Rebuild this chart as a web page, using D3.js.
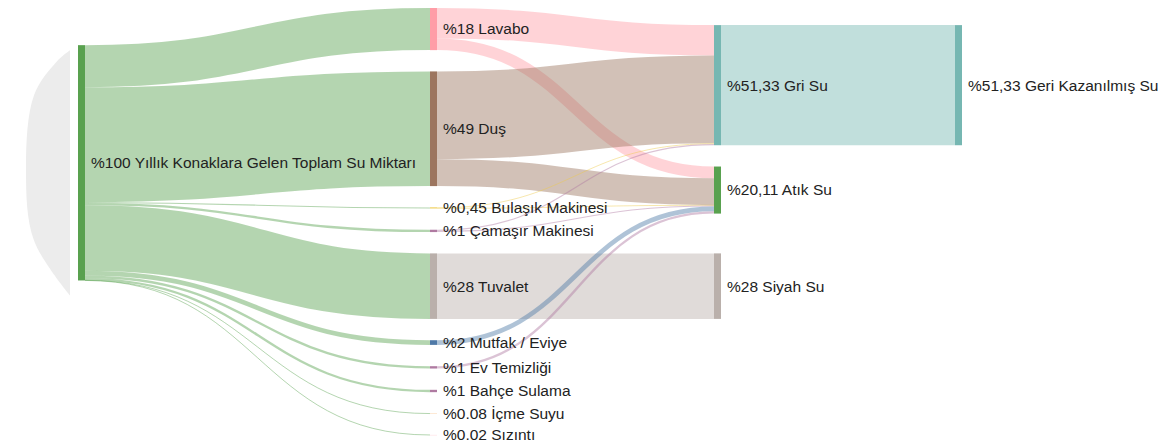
<!DOCTYPE html>
<html>
<head>
<meta charset="utf-8">
<script src="https://cdn.jsdelivr.net/npm/d3@7"></script>
<style>
  body { margin: 0; background: #fff; }
  text { font-family: "Liberation Sans", Arial, sans-serif; font-size: 15.5px; fill: #222; }
</style>
</head>
<body>
<svg id="chart" width="1169" height="448"></svg>
<script>
// ---- data ----
const nodeIds = ["Toplam", "Lavabo", "Dus", "Bulasik", "Camasir", "Tuvalet", "Mutfak",
  "EvTemizligi", "Bahce", "Icme", "Sizinti", "GriSu", "AtikSu", "SiyahSu", "GeriKazanilmis"];
const nodeLabels = ["%100 Yıllık Konaklara Gelen Toplam Su Miktarı", "%18 Lavabo", "%49 Duş",
  "%0,45 Bulaşık Makinesi", "%1 Çamaşır Makinesi", "%28 Tuvalet", "%2 Mutfak / Eviye",
  "%1 Ev Temizliği", "%1 Bahçe Sulama", "%0.08 İçme Suyu", "%0.02 Sızıntı",
  "%51,33 Gri Su", "%20,11 Atık Su", "%28 Siyah Su", "%51,33 Geri Kazanılmış Su"];

const linkSources = ["Toplam", "Toplam", "Toplam", "Toplam", "Toplam", "Toplam", "Toplam", "Toplam", "Toplam", "Toplam",
  "Lavabo", "Lavabo", "Dus", "Dus", "Bulasik", "Bulasik", "Camasir", "Camasir",
  "Tuvalet", "Mutfak", "EvTemizligi", "GriSu"];
const linkTargets = ["Lavabo", "Dus", "Bulasik", "Camasir", "Tuvalet", "Mutfak", "EvTemizligi", "Bahce", "Icme", "Sizinti",
  "GriSu", "AtikSu", "GriSu", "AtikSu", "GriSu", "AtikSu", "GriSu", "AtikSu",
  "SiyahSu", "AtikSu", "AtikSu", "GeriKazanilmis"];
const linkValues = [18, 49, 0.45, 1, 28, 2, 1, 1, 0.08, 0.02,
  13, 5, 37.5, 11.5, 0.33, 0.12, 0.5, 0.49,
  28, 2, 1, 51.33];

// ---- styles ----
const T = d3.schemeTableau10;
const nodeColors = [T[4], T[7], T[8], T[5], T[6], T[9], T[0], T[6], T[6], T[1], T[7], T[3], T[4], T[9], T[3]];

const nodeWidth = 7, nodePadding = 21.3;
const extentY = [8, 435];
const columnX = d3.scaleOrdinal().domain([0, 1, 2, 3]).range([78, 430, 714, 955]);
const iterations = 32;
const bandLift = 0.4;   // how far a node with several outflows pulls its targets upwards

// ---- sankey layout (left-aligned, relaxation as in d3-sankey) ----
const nodes = nodeIds.map((id, i) => ({ id, index: i, label: nodeLabels[i], color: nodeColors[i], sourceLinks: [], targetLinks: [] }));
const byId = new Map(nodes.map(n => [n.id, n]));
const links = linkValues.map((v, i) => ({ index: i, source: byId.get(linkSources[i]), target: byId.get(linkTargets[i]), value: v }));
links.forEach(l => { l.source.sourceLinks.push(l); l.target.targetLinks.push(l); });
nodes.forEach(n => {
  n.value = Math.max(d3.sum(n.sourceLinks, l => l.value), d3.sum(n.targetLinks, l => l.value));
});
(function assignDepths() {
  let current = new Set(nodes.filter(n => n.targetLinks.length === 0)), x = 0;
  while (current.size) {
    const next = new Set();
    for (const n of current) { n.depth = x; for (const l of n.sourceLinks) next.add(l.target); }
    x++; current = next;
  }
})();
const maxDepth = d3.max(nodes, n => n.depth);
const columns = d3.range(maxDepth + 1).map(d => nodes.filter(n => n.depth === d));
nodes.forEach(n => { n.x0 = columnX(n.depth); n.x1 = n.x0 + nodeWidth; });

const [y0, y1] = extentY;
const py = Math.min(nodePadding, (y1 - y0) / (d3.max(columns, c => c.length) - 1));
const ky = d3.min(columns, c => (y1 - y0 - (c.length - 1) * py) / d3.sum(c, n => n.value));
const yScale = d3.scaleLinear().domain([0, 1]).range([0, ky]);

function ascendingBreadth(a, b) { return a.y0 - b.y0; }
function reorderNodeLinks(n) {
  n.sourceLinks.sort((a, b) => ascendingBreadth(a.target, b.target) || a.index - b.index);
  n.targetLinks.sort((a, b) => ascendingBreadth(a.source, b.source) || a.index - b.index);
}
links.forEach(l => { l.width = yScale(l.value); });

columns.forEach(c => {
  let y = y0;
  for (const n of c) { n.y0 = y; n.y1 = y + yScale(n.value); y = n.y1 + py; }
  y = (y1 - y + py) / (c.length + 1);
  c.forEach((n, i) => { n.y0 += y * (i + 1); n.y1 += y * (i + 1); });
});
nodes.forEach(reorderNodeLinks);

function targetTop(source, target) {
  let y = source.y0 - (source.sourceLinks.length - 1) * py / 2;
  for (const l of source.sourceLinks) { if (l.target === target) break; y += l.width + py; }
  for (const l of target.targetLinks) { if (l.source === source) break; y -= l.width; }
  return y;
}
function sourceTop(source, target) {
  let y = target.y0 - (target.targetLinks.length - 1) * py / 2;
  for (const l of target.targetLinks) { if (l.source === source) break; y += l.width + py; }
  for (const l of source.sourceLinks) { if (l.target === target) break; y -= l.width; }
  return y;
}
function topToBottom(c, y, i, alpha) {
  for (; i < c.length; ++i) {
    const n = c[i], dy = (y - n.y0) * alpha;
    if (dy > 1e-6) { n.y0 += dy; n.y1 += dy; }
    y = n.y1 + py;
  }
}
function bottomToTop(c, y, i, alpha) {
  for (; i >= 0; --i) {
    const n = c[i], dy = (n.y1 - y) * alpha;
    if (dy > 1e-6) { n.y0 -= dy; n.y1 -= dy; }
    y = n.y0 - py;
  }
}
function resolveCollisions(c, alpha) {
  const i = c.length >> 1, s = c[i];
  bottomToTop(c, s.y0 - py, i - 1, alpha);
  topToBottom(c, s.y1 + py, i + 1, alpha);
  bottomToTop(c, y1, c.length - 1, alpha);
  topToBottom(c, y0, 0, alpha);
}
function relaxLeftToRight(alpha, beta) {
  for (let i = 1; i < columns.length; ++i) {
    const c = columns[i];
    for (const t of c) {
      let y = 0, w = 0;
      for (const l of t.targetLinks) {
        const v = l.value * (t.depth - l.source.depth);
        y += targetTop(l.source, t) * v; w += v;
      }
      if (!(w > 0)) continue;
      const dy = (y / w - t.y0) * alpha;
      t.y0 += dy; t.y1 += dy; reorderNodeLinks(t);
    }
    c.sort(ascendingBreadth);
    resolveCollisions(c, beta);
  }
}
function relaxRightToLeft(alpha, beta) {
  for (let i = columns.length - 2; i >= 0; --i) {
    const c = columns[i];
    for (const s of c) {
      let y = 0, w = 0;
      for (const l of s.sourceLinks) {
        const v = l.value * (l.target.depth - s.depth);
        y += sourceTop(s, l.target) * v; w += v;
      }
      if (!(w > 0)) continue;
      const dy = (y / w - s.y0) * alpha;
      s.y0 += dy; s.y1 += dy; reorderNodeLinks(s);
    }
    c.sort(ascendingBreadth);
    resolveCollisions(c, beta);
  }
}
for (let i = 0; i < iterations; ++i) {
  const alpha = Math.pow(0.99, i), beta = Math.max(1 - alpha, (i + 1) / iterations);
  relaxRightToLeft(alpha, beta);
  relaxLeftToRight(alpha, beta);
}

// settle the later columns on the continuation of their incoming bands
for (let i = 2; i < columns.length; ++i) {
  const c = columns[i];
  for (const t of c) {
    let y = 0, w = 0;
    for (const l of t.targetLinks) {
      let bandTop = l.source.y0 - (l.source.sourceLinks.length - 1) * py * bandLift;
      for (const m of l.source.sourceLinks) { if (m === l) break; bandTop += m.width; }
      for (const m of t.targetLinks) { if (m === l) break; bandTop -= m.width; }
      y += bandTop * l.value; w += l.value;
    }
    if (!(w > 0)) continue;
    const dy = y / w - t.y0;
    t.y0 += dy; t.y1 += dy;
  }
  c.sort(ascendingBreadth);
  topToBottom(c, y0, 0, 1);
}
nodes.forEach(reorderNodeLinks);

nodes.forEach(n => {
  let a = n.y0, b = n.y0;
  for (const l of n.sourceLinks) { l.y0 = a + l.width / 2; a += l.width; }
  for (const l of n.targetLinks) { l.y1 = b + l.width / 2; b += l.width; }
});

// ---- drawing ----
const svg = d3.select("#chart");

// soft grey lens to the left of the inflow node
const src = nodes[0];
const lensPoints = [
  [src.x0 - 8, src.y0 + 5], [src.x0 - 21, src.y0 + 16], [src.x0 - 44, src.y0 + 50],
  [src.x0 - 52, src.y0 + 125], [src.x0 - 44, src.y1 - 40], [src.x0 - 8, src.y1 + 15]
];
svg.append("path")
  .attr("d", d3.line().curve(d3.curveCatmullRom)(lensPoints) + "Z")
  .attr("fill", "#ececec");

const linkPath = d3.linkHorizontal()
  .source(d => [d.source.x1, d.y0])
  .target(d => [d.target.x0, d.y1]);

svg.append("g")
  .attr("fill", "none")
  .selectAll("path")
  .data(links)
  .join("path")
  .attr("d", linkPath)
  .attr("stroke", d => d.source.color)
  .attr("stroke-opacity", 0.45)
  .attr("stroke-width", d => Math.max(1, d.width));

svg.append("g")
  .selectAll("rect")
  .data(nodes)
  .join("rect")
  .attr("x", d => d.x0)
  .attr("y", d => d.y0)
  .attr("width", d => d.x1 - d.x0)
  .attr("height", d => Math.max(0.2, d.y1 - d.y0))
  .attr("fill", d => d.color);

svg.append("g")
  .selectAll("text")
  .data(nodes)
  .join("text")
  .attr("x", d => d.x1 + 6)
  .attr("y", d => (d.y0 + d.y1) / 2)
  .attr("dy", "0.35em")
  .text(d => d.label);
</script>
</body>
</html>
